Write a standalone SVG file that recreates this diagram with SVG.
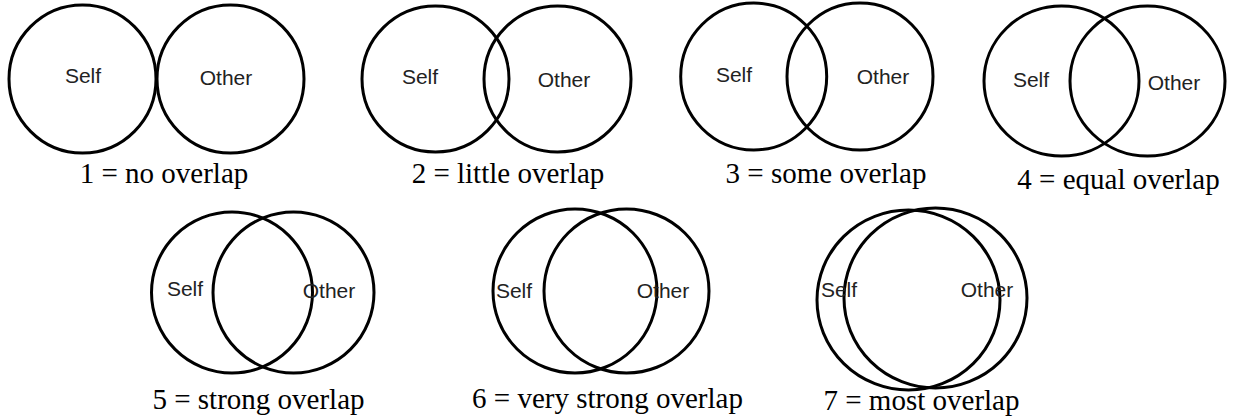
<svg xmlns="http://www.w3.org/2000/svg" width="1233" height="419" viewBox="0 0 1233 419">
<style>
.c{fill:none;stroke:#000;stroke-width:3}
.t{font-family:"Liberation Sans",Arial,sans-serif;font-size:21px;fill:#222;text-anchor:middle}
.l{font-family:"Liberation Serif","Times New Roman",serif;font-size:29px;fill:#000;text-anchor:middle}
</style>
<rect width="1233" height="419" fill="#fff"/>
<g id="d1">
<ellipse class="c" cx="82.5" cy="79" rx="73.5" ry="74"/>
<ellipse class="c" cx="230.5" cy="79" rx="73.5" ry="74"/>
<text class="t" x="83" y="83">Self</text>
<text class="t" x="226" y="85">Other</text>
<text class="l" x="164" y="183">1 = no overlap</text>
</g>
<g id="d2">
<ellipse class="c" cx="435.5" cy="79" rx="73.5" ry="73"/>
<ellipse class="c" cx="557.5" cy="79" rx="73.5" ry="73"/>
<text class="t" x="420" y="84">Self</text>
<text class="t" x="564" y="87">Other</text>
<text class="l" x="508" y="183">2 = little overlap</text>
</g>
<g id="d3">
<ellipse class="c" cx="753.7" cy="76.5" rx="73" ry="73.5"/>
<ellipse class="c" cx="860" cy="76.5" rx="73" ry="73.5"/>
<text class="t" x="734" y="82">Self</text>
<text class="t" x="883" y="84">Other</text>
<text class="l" x="826" y="183">3 = some overlap</text>
</g>
<g id="d4">
<ellipse class="c" cx="1061.5" cy="81" rx="77.5" ry="75"/>
<ellipse class="c" cx="1147.5" cy="81" rx="77.5" ry="75"/>
<text class="t" x="1031" y="87">Self</text>
<text class="t" x="1174" y="90">Other</text>
<text class="l" x="1118.5" y="189">4 = equal overlap</text>
</g>
<g id="d5">
<ellipse class="c" cx="232" cy="292.5" rx="80.5" ry="80.5"/>
<ellipse class="c" cx="293.5" cy="292.5" rx="80.5" ry="80.5"/>
<text class="t" x="185" y="296">Self</text>
<text class="t" x="329" y="298">Other</text>
<text class="l" x="258.5" y="409">5 = strong overlap</text>
</g>
<g id="d6">
<ellipse class="c" cx="575" cy="291" rx="82" ry="82"/>
<ellipse class="c" cx="626.5" cy="291" rx="82.5" ry="82"/>
<text class="t" x="514" y="298">Self</text>
<text class="t" x="663" y="298">Other</text>
<text class="l" x="607.5" y="408">6 = very strong overlap</text>
</g>
<g id="d7">
<ellipse class="c" cx="908.5" cy="300" rx="91.5" ry="90"/>
<ellipse class="c" cx="935.5" cy="298" rx="91.5" ry="90"/>
<text class="t" x="839" y="297">Self</text>
<text class="t" x="987" y="297">Other</text>
<text class="l" x="921.5" y="410">7 = most overlap</text>
</g>
<g id="connectors"/>
</svg>
